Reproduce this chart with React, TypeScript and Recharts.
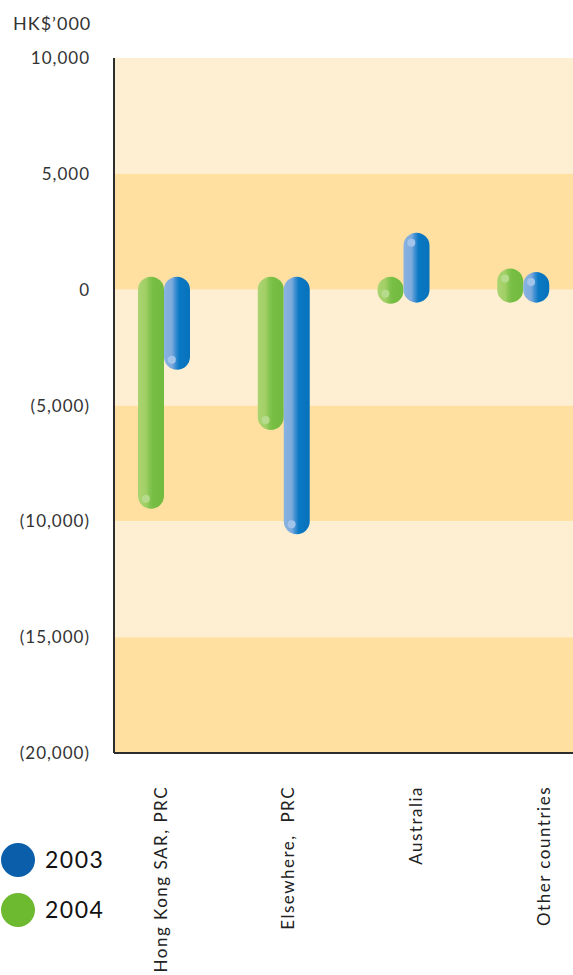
import React from "react";
import { BarChart, Bar, XAxis, YAxis, ReferenceArea } from "recharts";

const categories = ["Hong Kong SAR, PRC", "Elsewhere,  PRC", "Australia", "Other countries"];
const values2004 = [-8900, -5500, -50, 350];
const values2003 = [-2900, -10000, 1900, 200];
const yTicks = [10000, 5000, 0, -5000, -10000, -15000, -20000];
const seriesNames = ["2003", "2004"];

const FONT = "Lato, 'Open Sans', sans-serif";
const LIGHT = "#FFEFD2";
const DARK = "#FFE0A1";
const BLUE = "#0B5EA9";
const GREEN = "#6DB92F";
const labelShift = [3, 10, 19, 27];

const data = categories.map((name, i) => ({ name, y2004: values2004[i], y2003: values2003[i] }));

const bands = yTicks.slice(0, -1).map((top, i) => ({ y1: yTicks[i + 1], y2: top, fill: i % 2 === 0 ? LIGHT : DARK }));

function fmt(v: number) {
  const s = Math.abs(v).toLocaleString("en-US");
  return v < 0 ? `(${s})` : s;
}

function makePill(key: string, gradId: string, dotFill: string) {
  return (props: any) => {
    const { x, y, width, height, payload } = props;
    const top = height < 0 ? y + height : y;
    const h = Math.abs(height);
    const r = width / 2;
    const neg = payload[key] < 0;
    const cy = neg ? top + h + 3 : top - 3;
    return (
      <g>
        <rect x={x} y={top - r} width={width} height={h + 2 * r} rx={r} ry={r} fill={`url(#${gradId})`} />
        <circle cx={x + width * 0.3} cy={cy} r={4} fill={dotFill} />
      </g>
    );
  };
}

function CategoryTick(props: any) {
  const { x, y, payload, index } = props;
  const tx = x + labelShift[index];
  return (
    <text
      x={tx}
      y={y}
      transform={`rotate(-90 ${tx} ${y})`}
      textAnchor="end"
      fill="#222"
      fontSize={17}
      fontFamily={FONT}
      letterSpacing={1.5}
      style={{ whiteSpace: "pre" }}
    >
      {payload.value}
    </text>
  );
}

function LegendBlock() {
  const colors = [BLUE, GREEN];
  return (
    <svg width={130} height={100} style={{ position: "absolute", left: 0, top: 836, display: "block", overflow: "visible" }}>
      {seriesNames.map((n, i) => (
        <g key={n}>
          <circle cx={18} cy={24 + i * 50} r={17} fill={colors[i]} />
          <text x={45} y={32 + i * 50} fontSize={23} fontFamily={FONT} fill="#111" letterSpacing={1.5}>
            {n}
          </text>
        </g>
      ))}
    </svg>
  );
}

export default function App() {
  return (
    <div style={{ position: "relative", width: 573, height: 975, overflow: "hidden", background: "#fff" }}>
      <style>{`html, body { margin: 0; padding: 0; }`}</style>
      <div style={{ position: "absolute", left: 13, top: 12, fontFamily: FONT, fontSize: 18, color: "#333", letterSpacing: 1 }}>
        HK$’000
      </div>
      <BarChart width={573} height={975} data={data} margin={{ top: 58, right: 0, left: 0, bottom: 0 }} barSize={26} barGap={0}>
        <defs>
          <linearGradient id="gGreen" x1="0" y1="0" x2="1" y2="0">
            <stop offset="0%" stopColor="#AAD471" />
            <stop offset="30%" stopColor="#A2CF66" />
            <stop offset="45%" stopColor="#84C450" />
            <stop offset="58%" stopColor="#76BE44" />
            <stop offset="100%" stopColor="#71BB3F" />
          </linearGradient>
          <linearGradient id="gBlue" x1="0" y1="0" x2="1" y2="0">
            <stop offset="0%" stopColor="#88B3E1" />
            <stop offset="30%" stopColor="#7EABDD" />
            <stop offset="45%" stopColor="#3B8DD0" />
            <stop offset="58%" stopColor="#0A78C3" />
            <stop offset="100%" stopColor="#0872BC" />
          </linearGradient>
        </defs>
        {bands.map((b, i) => (
          <ReferenceArea key={i} y1={b.y1} y2={b.y2} fill={b.fill} fillOpacity={1} stroke="none" ifOverflow="hidden" />
        ))}
        <XAxis
          dataKey="name"
          height={222}
          padding={{ left: -10, right: -10 }}
          axisLine={{ stroke: "#2d2d2d", strokeWidth: 2 }}
          tickLine={false}
          tickSize={0}
          tickMargin={33}
          tick={<CategoryTick />}
          interval={0}
        />
        <YAxis
          width={114}
          domain={[-20000, 10000]}
          ticks={yTicks}
          interval={0}
          tickFormatter={fmt}
          axisLine={{ stroke: "#2d2d2d", strokeWidth: 2 }}
          tickLine={false}
          tickSize={0}
          tickMargin={24}
          tick={{ fill: "#333", fontSize: 17, fontFamily: FONT, letterSpacing: 1 }}
        />
        <Bar dataKey="y2004" name="2004" fill={GREEN} isAnimationActive={false} shape={makePill("y2004", "gGreen", "#B6DB8C")} />
        <Bar dataKey="y2003" name="2003" fill={BLUE} isAnimationActive={false} shape={makePill("y2003", "gBlue", "#A2C4EA")} />
      </BarChart>
      <LegendBlock />
    </div>
  );
}
